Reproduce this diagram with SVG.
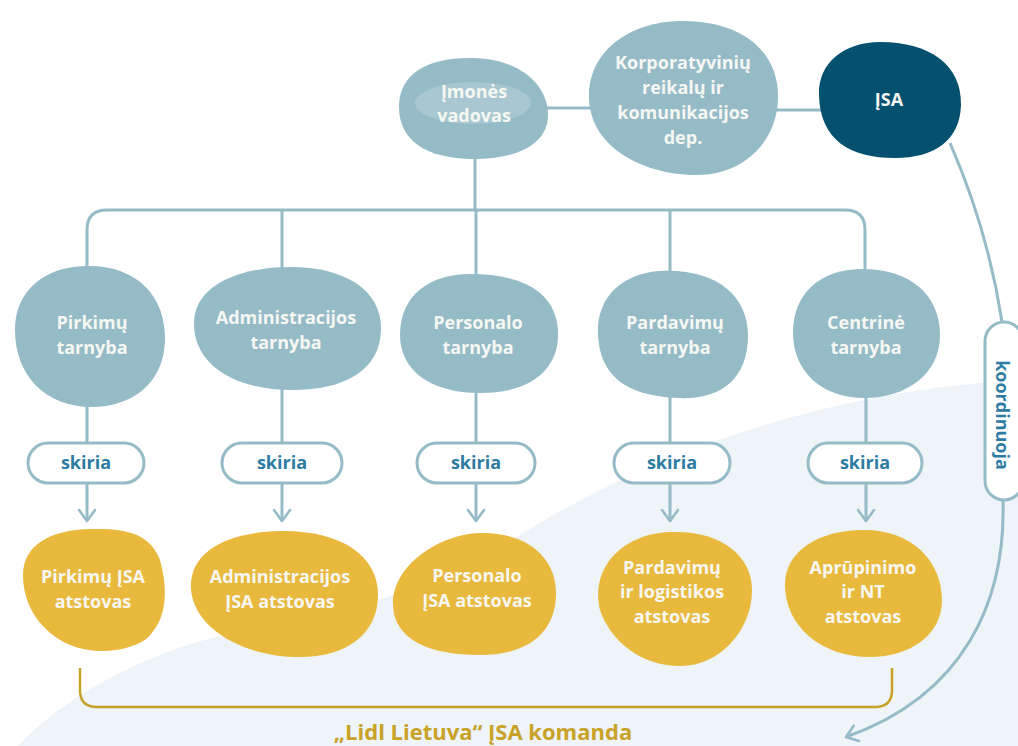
<svg xmlns="http://www.w3.org/2000/svg" width="1018" height="746" viewBox="0 0 1018 746">
<style>
.b{fill:#95bbc7}
.d{fill:#03506f}
.y{fill:#e8b93d}
.t{font-family:"Open Sans",Lato,"Liberation Sans",sans-serif;font-weight:700;font-size:18px;fill:#f6f7f3;text-anchor:middle}
.sk{font-family:"Open Sans",Lato,"Liberation Sans",sans-serif;font-weight:700;font-size:18px;fill:#2d7ca3;text-anchor:middle}
.ln{fill:none;stroke:#95bbc7;stroke-width:3}
.pill{fill:#ffffff;stroke:#95bbc7;stroke-width:3}
.gold{fill:none;stroke:#c8a12a;stroke-width:2.5}
</style>
<defs>
<marker id="chev" viewBox="0 0 20 20" refX="14" refY="10" markerWidth="20" markerHeight="20" markerUnits="userSpaceOnUse" orient="auto">
<path d="M3 2 L14 10 L3 18" fill="none" stroke="#95bbc7" stroke-width="2.6" stroke-linecap="round" stroke-linejoin="round"/>
</marker>
</defs>
<rect width="1018" height="746" fill="#ffffff"/>
<path d="M1018 380 C820 392 640 455 500 548 C430 595 330 612 220 636 C140 655 60 700 18 746 L1018 746 Z" fill="#eef4f7"/>

<g id="connectors">
<path class="ln" d="M546 108 H592"/>
<path class="ln" d="M776 110 H821"/>
<path class="ln" d="M475 158 V210"/>
<path class="ln" d="M87 268 V230 Q87 210 107 210 H845 Q865 210 865 230 V270"/>
<path class="ln" d="M282 210 V268"/>
<path class="ln" d="M476 210 V275"/>
<path class="ln" d="M670 210 V272"/>
<path class="ln" d="M87 405 V443"/>
<path class="ln" d="M282 388 V443"/>
<path class="ln" d="M476 391 V443"/>
<path class="ln" d="M670 397 V443"/>
<path class="ln" d="M866 396 V443"/>
<path class="ln" d="M87 483 V521" marker-end="url(#chev)"/>
<path class="ln" d="M282 483 V521" marker-end="url(#chev)"/>
<path class="ln" d="M476 483 V521" marker-end="url(#chev)"/>
<path class="ln" d="M670 483 V521" marker-end="url(#chev)"/>
<path class="ln" d="M866 483 V521" marker-end="url(#chev)"/>
<path class="ln" d="M950 143 Q988 230 1002 322"/>
<path class="ln" d="M1003 500 C1006 600 965 695 846 737" marker-end="url(#chev)"/>
<path class="gold" d="M80 668 V690 Q80 707 97 707 H875 Q892 707 892 690 V668"/>
</g>

<g id="skiria-labels">
<rect class="pill" x="28" y="443" width="116" height="40" rx="20"/>
<text class="sk" x="86" y="469">skiria</text>
<rect class="pill" x="222" y="443" width="120" height="40" rx="20"/>
<text class="sk" x="282" y="469">skiria</text>
<rect class="pill" x="417" y="443" width="118" height="40" rx="20"/>
<text class="sk" x="476" y="469">skiria</text>
<rect class="pill" x="614" y="443" width="116" height="40" rx="20"/>
<text class="sk" x="672" y="469">skiria</text>
<rect class="pill" x="808" y="443" width="114" height="40" rx="20"/>
<text class="sk" x="865" y="469">skiria</text>
<rect class="pill" x="985" y="322" width="38" height="178" rx="19"/>
<text class="sk" transform="translate(1003,415) rotate(90)" dominant-baseline="central" y="0">koordinuoja</text>
</g>

<g id="imones-vadovas">
<path class="b" d="M470 58 C520 58 548 85 548 115 C548 145 515 160 470 159 C425 158 398 140 399 105 C400 75 425 58 470 58 Z"/>
<ellipse cx="473" cy="103" rx="58" ry="21" fill="#a9c7d0"/>
<text class="t" x="474" y="98">Įmonės</text>
<text class="t" x="474" y="122">vadovas</text>
</g>

<g id="korporatyviniu">
<path class="b" d="M680 21 C740 20 780 50 778 100 C776 145 740 176 695 175 C640 174 588 145 589 95 C590 50 630 22 680 21 Z"/>
<text class="t" x="683" y="69">Korporatyvinių</text>
<text class="t" x="683" y="94">reikalų ir</text>
<text class="t" x="683" y="119">komunikacijos</text>
<text class="t" x="683" y="144">dep.</text>
</g>

<g id="isa">
<path class="d" d="M880 42 C930 42 962 65 961 105 C960 140 935 158 895 158 C850 158 820 140 819 95 C818 62 845 42 880 42 Z"/>
<text class="t" x="889" y="106">ĮSA</text>
</g>

<g id="pirkimu-tarnyba">
<path class="b" d="M85 266 C135 264 166 295 165 340 C164 385 130 407 92 407 C45 407 15 375 15 330 C15 290 45 267 85 266 Z"/>
<text class="t" x="92" y="329">Pirkimų</text>
<text class="t" x="92" y="354">tarnyba</text>
</g>

<g id="administracijos-tarnyba">
<path class="b" d="M290 267 C345 267 382 290 381 330 C380 370 345 390 292 390 C235 390 193 365 194 322 C195 285 240 267 290 267 Z"/>
<text class="t" x="286" y="324">Administracijos</text>
<text class="t" x="286" y="349">tarnyba</text>
</g>

<g id="personalo-tarnyba">
<path class="b" d="M470 274 C520 274 555 290 558 330 C560 370 530 393 480 393 C430 393 400 370 400 335 C400 295 430 274 470 274 Z"/>
<text class="t" x="478" y="329">Personalo</text>
<text class="t" x="478" y="354">tarnyba</text>
</g>

<g id="pardavimu-tarnyba">
<path class="b" d="M660 271 C715 268 748 295 748 335 C748 380 720 400 678 398 C625 396 600 375 598 335 C596 295 625 273 660 271 Z"/>
<text class="t" x="675" y="329">Pardavimų</text>
<text class="t" x="675" y="354">tarnyba</text>
</g>

<g id="centrine-tarnyba">
<path class="b" d="M860 269 C910 268 940 295 940 335 C940 375 905 398 865 398 C820 398 793 370 793 333 C793 293 820 270 860 269 Z"/>
<text class="t" x="866" y="329">Centrinė</text>
<text class="t" x="866" y="354">tarnyba</text>
</g>

<g id="pirkimu-atstovas">
<path class="y" d="M90 529 C130 528 150 535 160 560 C168 590 168 620 145 640 C125 652 95 655 70 645 C40 632 23 605 23 575 C23 545 50 530 90 529 Z"/>
<text class="t" x="93" y="583">Pirkimų ĮSA</text>
<text class="t" x="93" y="608">atstovas</text>
</g>

<g id="administracijos-atstovas">
<path class="y" d="M280 531 C340 530 378 555 378 595 C378 635 345 657 300 657 C245 657 195 630 191 590 C188 550 230 532 280 531 Z"/>
<text class="t" x="280" y="583">Administracijos</text>
<text class="t" x="280" y="608">ĮSA atstovas</text>
</g>

<g id="personalo-atstovas">
<path class="y" d="M480 533 C530 532 557 560 556 595 C555 635 525 655 480 655 C430 655 394 640 393 605 C392 565 440 534 480 533 Z"/>
<text class="t" x="477" y="582">Personalo</text>
<text class="t" x="477" y="607">ĮSA atstovas</text>
</g>

<g id="pardavimu-atstovas">
<path class="y" d="M670 532 C720 530 752 555 752 590 C752 630 720 666 680 666 C640 666 610 640 600 610 C590 570 620 534 670 532 Z"/>
<text class="t" x="672" y="574">Pardavimų</text>
<text class="t" x="672" y="598">ir logistikos</text>
<text class="t" x="672" y="623">atstovas</text>
</g>

<g id="aprupinimo-atstovas">
<path class="y" d="M860 530 C910 528 942 560 942 600 C942 635 910 657 870 657 C820 657 785 625 785 585 C785 550 820 531 860 530 Z"/>
<text class="t" x="863" y="574">Aprūpinimo</text>
<text class="t" x="863" y="598">ir NT</text>
<text class="t" x="863" y="623">atstovas</text>
</g>

<g id="team-label">
<text x="483" y="740" style="font-family:'Open Sans',Lato,'Liberation Sans',sans-serif;font-weight:700;font-size:22px;fill:#c9a227;text-anchor:middle">„Lidl Lietuva“ ĮSA komanda</text>
</g>
</svg>
